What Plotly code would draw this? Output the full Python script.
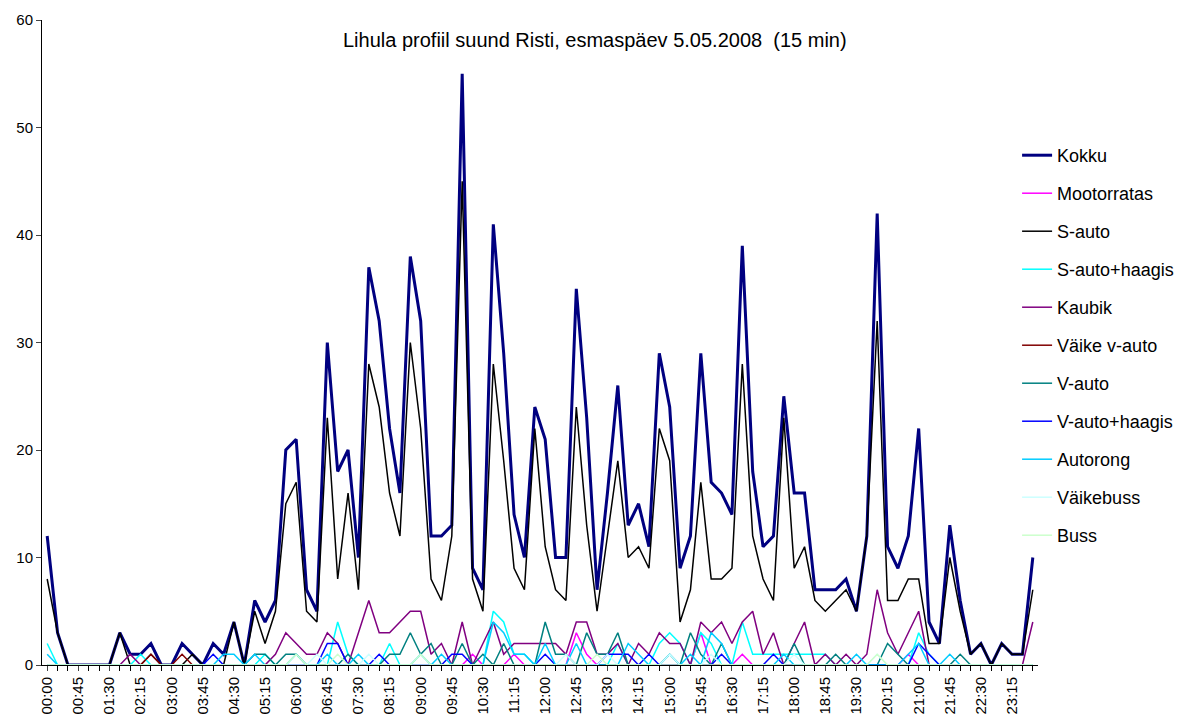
import plotly.graph_objects as go

# 15 min intervals, 00:00 ... 23:45
TIMES = [f"{h:02d}:{m:02d}" for h in range(24) for m in (0, 15, 30, 45)]

KOKKU = [12, 3, 0, 0, 0, 0, 0, 3, 1, 1, 2, 0,
         0, 2, 1, 0, 2, 1, 4, 0, 6, 4, 6, 20,
         21, 7, 5, 30, 18, 20, 10, 37, 32, 22, 16, 38,
         32, 12, 12, 13, 55, 9, 7, 41, 29, 14, 10, 24,
         21, 10, 10, 35, 23, 7, 16, 26, 13, 15, 11, 29,
         24, 9, 12, 29, 17, 16, 14, 39, 18, 11, 12, 25,
         16, 16, 7, 7, 7, 8, 5, 12, 42, 11, 9, 12,
         22, 4, 2, 13, 6, 1, 2, 0, 2, 1, 1, 10]

S_AUTO = [8, 3, 0, 0, 0, 0, 0, 3, 0, 0, 1, 0,
          0, 0, 1, 0, 0, 0, 4, 0, 5, 2, 5, 15,
          17, 5, 4, 23, 8, 16, 7, 28, 24, 16, 12, 30,
          22, 8, 6, 12, 45, 8, 5, 28, 19, 9, 7, 22,
          11, 7, 6, 24, 13, 5, 12, 19, 10, 11, 9, 22,
          19, 4, 7, 17, 8, 8, 9, 28, 12, 8, 6, 23,
          9, 11, 6, 5, 6, 7, 5, 12, 32, 6, 6, 8,
          8, 2, 2, 10, 5, 1, 2, 0, 2, 1, 1, 7]

KAUBIK = [0, 0, 0, 0, 0, 0, 0, 0, 1, 0, 0, 0,
          0, 0, 0, 0, 0, 0, 0, 0, 0, 0, 1, 3,
          2, 1, 1, 3, 2, 0, 3, 6, 3, 3, 4, 5,
          5, 1, 2, 0, 4, 0, 2, 4, 1, 2, 2, 2,
          2, 2, 1, 4, 4, 1, 1, 2, 0, 2, 1, 3,
          2, 2, 0, 4, 3, 4, 2, 4, 5, 1, 3, 0,
          2, 4, 0, 1, 0, 1, 0, 1, 7, 3, 1, 3,
          5, 0, 0, 0, 0, 0, 0, 0, 0, 0, 0, 4]

MOOTORRATAS = [0, 0, 0, 0, 0, 0, 0, 0, 0, 0, 0, 0,
               0, 0, 0, 0, 0, 0, 0, 0, 0, 0, 0, 0,
               0, 0, 0, 0, 0, 0, 0, 0, 0, 0, 0, 0,
               0, 0, 0, 0, 0, 1, 0, 0, 0, 1, 0, 0,
               0, 0, 0, 3, 1, 0, 0, 0, 0, 0, 0, 0,
               0, 0, 0, 3, 0, 0, 0, 1, 0, 0, 0, 0,
               0, 0, 0, 0, 0, 0, 0, 0, 0, 0, 0, 1,
               0, 0, 0, 0, 0, 0, 0, 0, 0, 0, 0, 0]

S_AUTO_HAAGIS = [2, 0, 0, 0, 0, 0, 0, 0, 0, 1, 0, 0,
                 0, 0, 0, 0, 0, 0, 0, 0, 0, 1, 0, 0,
                 0, 0, 0, 0, 4, 1, 0, 0, 0, 2, 0, 0,
                 0, 0, 0, 0, 0, 0, 0, 5, 4, 1, 1, 0,
                 0, 0, 0, 0, 0, 0, 0, 2, 0, 0, 0, 2,
                 3, 2, 0, 3, 2, 0, 0, 4, 1, 1, 1, 1,
                 1, 1, 1, 1, 0, 0, 0, 0, 0, 0, 0, 0,
                 3, 1, 0, 0, 0, 0, 0, 0, 0, 0, 0, 0]

VAIKE_V_AUTO = [0, 0, 0, 0, 0, 0, 0, 0, 0, 0, 1, 0,
                0, 1, 0, 0, 0, 0, 0, 0, 0, 0, 0, 0,
                0, 0, 0, 0, 0, 0, 0, 0, 0, 0, 0, 0,
                0, 0, 0, 0, 0, 0, 0, 0, 0, 0, 0, 0,
                0, 0, 0, 0, 0, 0, 0, 0, 0, 0, 0, 0,
                0, 0, 0, 0, 0, 0, 0, 0, 0, 0, 0, 0,
                0, 0, 0, 0, 0, 0, 0, 0, 0, 0, 0, 0,
                0, 0, 0, 0, 0, 0, 0, 0, 0, 0, 0, 0]

V_AUTO = [0, 0, 0, 0, 0, 0, 0, 0, 0, 0, 0, 0,
          0, 0, 0, 0, 0, 0, 0, 0, 1, 1, 0, 1,
          1, 0, 0, 0, 0, 1, 0, 0, 0, 1, 1, 3,
          1, 2, 0, 0, 2, 0, 1, 0, 2, 0, 0, 0,
          4, 1, 1, 0, 3, 1, 1, 3, 0, 0, 0, 0,
          1, 0, 3, 1, 0, 2, 0, 0, 0, 0, 0, 0,
          2, 0, 0, 0, 1, 0, 0, 0, 0, 2, 1, 0,
          0, 0, 0, 0, 1, 0, 0, 0, 0, 0, 0, 0]

V_AUTO_HAAGIS = [0, 0, 0, 0, 0, 0, 0, 0, 0, 0, 0, 0,
                 0, 0, 0, 0, 1, 0, 0, 0, 0, 0, 0, 0,
                 0, 0, 0, 2, 2, 0, 0, 0, 1, 0, 0, 0,
                 0, 0, 0, 1, 1, 0, 0, 0, 0, 0, 0, 0,
                 1, 0, 0, 0, 0, 0, 1, 1, 1, 0, 1, 0,
                 0, 0, 0, 0, 0, 1, 0, 0, 0, 0, 1, 0,
                 0, 0, 0, 0, 0, 0, 0, 0, 0, 0, 0, 0,
                 2, 1, 0, 0, 0, 0, 0, 0, 0, 0, 0, 0]

AUTORONG = [1, 0, 0, 0, 0, 0, 0, 0, 0, 0, 0, 0,
            0, 0, 0, 0, 0, 1, 1, 0, 1, 0, 0, 0,
            1, 0, 0, 1, 0, 0, 1, 0, 0, 0, 0, 0,
            1, 0, 1, 0, 0, 0, 0, 4, 3, 1, 1, 0,
            2, 0, 0, 2, 0, 0, 0, 0, 2, 1, 0, 0,
            1, 0, 1, 0, 3, 2, 0, 0, 0, 0, 0, 1,
            0, 0, 0, 0, 0, 0, 1, 0, 0, 0, 0, 1,
            2, 0, 0, 1, 0, 0, 0, 0, 0, 0, 0, 0]

VAIKEBUSS = [0, 0, 0, 0, 0, 0, 0, 0, 0, 0, 0, 0,
             0, 0, 0, 0, 0, 0, 0, 0, 0, 0, 0, 0,
             0, 0, 1, 0, 0, 0, 0, 1, 0, 0, 0, 0,
             0, 0, 0, 0, 0, 0, 0, 0, 0, 0, 0, 0,
             0, 0, 1, 0, 0, 0, 1, 0, 0, 0, 0, 0,
             1, 0, 0, 0, 1, 0, 0, 0, 0, 0, 0, 0,
             1, 0, 0, 0, 0, 0, 0, 0, 1, 0, 0, 0,
             0, 0, 0, 0, 0, 0, 0, 0, 0, 0, 0, 0]

BUSS = [0, 0, 0, 0, 0, 0, 0, 0, 0, 0, 0, 0,
        0, 0, 0, 0, 0, 0, 0, 0, 0, 0, 0, 0,
        1, 0, 0, 0, 1, 0, 0, 0, 0, 0, 0, 0,
        1, 0, 0, 0, 0, 0, 0, 0, 0, 0, 0, 0,
        0, 0, 0, 0, 0, 1, 0, 0, 0, 0, 0, 0,
        0, 0, 0, 0, 0, 0, 0, 0, 0, 0, 0, 0,
        0, 0, 0, 0, 0, 0, 0, 0, 1, 0, 0, 0,
        0, 0, 0, 0, 0, 0, 0, 0, 0, 0, 0, 0]

SERIES = [
    ("Kokku", KOKKU, "#000080", 3),
    ("Mootorratas", MOOTORRATAS, "#FF00FF", 1.5),
    ("S-auto", S_AUTO, "#000000", 1.5),
    ("S-auto+haagis", S_AUTO_HAAGIS, "#00FFFF", 1.5),
    ("Kaubik", KAUBIK, "#800080", 1.5),
    ("Väike v-auto", VAIKE_V_AUTO, "#800000", 1.5),
    ("V-auto", V_AUTO, "#008080", 1.5),
    ("V-auto+haagis", V_AUTO_HAAGIS, "#0000FF", 1.5),
    ("Autorong", AUTORONG, "#00CCFF", 1.5),
    ("Väikebuss", VAIKEBUSS, "#CCFFFF", 1.5),
    ("Buss", BUSS, "#CCFFCC", 1.5),
]

FONT = "Arial, Liberation Sans, sans-serif"
x = list(range(len(TIMES)))

fig = go.Figure()
for name, vals, color, width in SERIES:
    fig.add_trace(
        go.Scatter(
            x=x,
            y=vals,
            mode="lines",
            name=name,
            legendgroup=name,
            line=dict(color=color, width=width),
        )
    )

fig.add_annotation(
    text="Lihula profiil suund Risti, esmaspäev 5.05.2008  (15 min)",
    xref="paper", yref="paper", x=0.555, y=0.969, yanchor="middle",
    showarrow=False, font=dict(family=FONT, size=20, color="black"),
)

# page body has an 8px margin; figure is a bit wider so the legend doesn't squeeze the plot
fig.update_layout(
    width=1200,
    height=718,
    margin=dict(l=34, r=170, t=12, b=61),
    paper_bgcolor="white",
    plot_bgcolor="white",
    font=dict(family=FONT, size=15, color="black"),
    showlegend=True,
    legend=dict(
        x=0.979, y=0.8186, xanchor="left", yanchor="top",
        font=dict(family=FONT, size=18, color="black"),
        tracegroupgap=11.6,
        bgcolor="rgba(0,0,0,0)",
    ),
    xaxis=dict(
        range=[-0.5, len(TIMES) - 0.5],
        tickmode="array",
        tickvals=x[::3],
        ticktext=TIMES[::3],
        tickangle=-90,
        ticks="outside",
        ticklen=5,
        minor=dict(ticks="outside", dtick=1, tick0=0, ticklen=5, tickcolor="black"),
        showline=True,
        linecolor="black",
        linewidth=1,
        showgrid=False,
        zeroline=False,
        tickfont=dict(family=FONT, size=15),
        automargin=False,
    ),
    yaxis=dict(
        range=[0, 60],
        dtick=10,
        ticks="outside",
        ticklen=5,
        showline=True,
        linecolor="black",
        linewidth=1,
        showgrid=False,
        zeroline=False,
        tickfont=dict(family=FONT, size=15),
        automargin=False,
    ),
)

fig.write_html("out.html")
